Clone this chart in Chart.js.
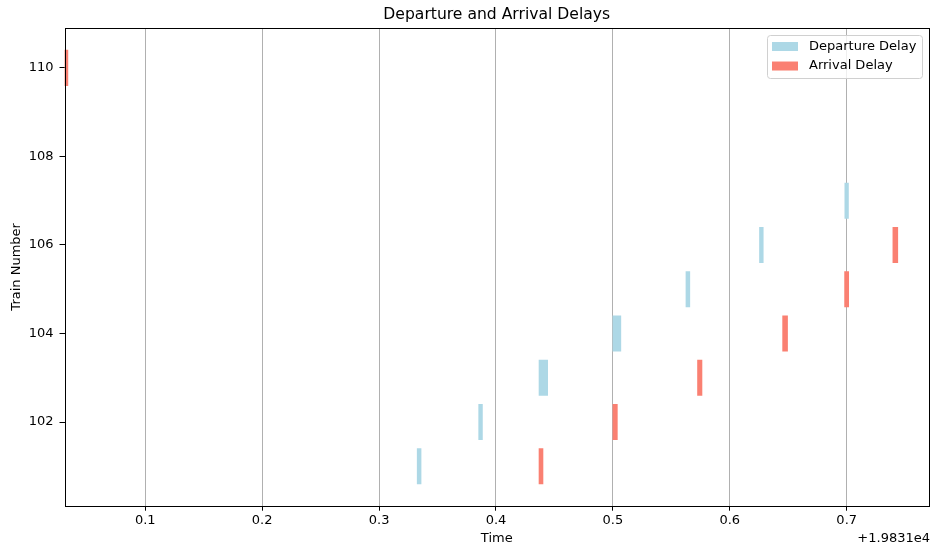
<!DOCTYPE html>
<html>
<head>
<meta charset="utf-8">
<script src="https://cdn.jsdelivr.net/npm/chart.js@4"></script>
<style>
  html, body { margin: 0; padding: 0; background: #fff; }
  #c { display: block; }
</style>
</head>
<body>
<canvas id="c" width="931" height="548"></canvas>
<script>
// Time values are days, shown as offset from 1.9831e4
const timeOffsetLabel = "+1.9831e4";

const departureTrains = [101, 102, 103, 104, 105, 106, 107];
const departureStart  = [0.3326, 0.3852, 0.4368, 0.5000, 0.5625, 0.6254, 0.6984];
const departureEnd    = [0.3359, 0.3884, 0.4442, 0.5068, 0.5658, 0.6286, 0.7015];

const arrivalTrains = [101, 102, 103, 104, 105, 106, 110];
const arrivalStart  = [0.4368, 0.5000, 0.5724, 0.6452, 0.6982, 0.7395, 0.0309];
const arrivalEnd    = [0.4402, 0.5038, 0.5762, 0.6494, 0.7017, 0.7437, 0.0338];

const xTicks = [0.1, 0.2, 0.3, 0.4, 0.5, 0.6, 0.7];
const yTicks = [102, 104, 106, 108, 110];

const seriesNames = ["Departure Delay", "Arrival Delay"];
const seriesColors = ["#add8e6", "#fa8072"];

const FONT = "'DejaVu Sans', sans-serif";
Chart.defaults.font.family = FONT;
Chart.defaults.color = "#000";

const frameAndLegend = {
  id: "frameAndLegend",
  afterDraw(chart) {
    const ctx = chart.ctx;
    const a = chart.chartArea;
    ctx.save();
    // axes frame
    ctx.strokeStyle = "#000";
    ctx.lineWidth = 1;
    ctx.strokeRect(Math.round(a.left) + 0.5, Math.round(a.top) + 0.5,
                   Math.round(a.right - a.left) - 1, Math.round(a.bottom - a.top));
    // legend
    const bx = a.right - 162, by = a.top + 7, bw = 155, bh = 43;
    ctx.fillStyle = "rgba(255,255,255,0.8)";
    ctx.strokeStyle = "#d0d0d0";
    ctx.beginPath();
    ctx.roundRect(bx + 0.5, by + 0.5, bw, bh, 3);
    ctx.fill();
    ctx.stroke();
    ctx.font = "13px " + FONT;
    ctx.textBaseline = "middle";
    ctx.textAlign = "left";
    for (let i = 0; i < seriesNames.length; i++) {
      const cy = by + 11.5 + i * 19.5;
      ctx.fillStyle = seriesColors[i];
      ctx.fillRect(bx + 5, cy - 4.5, 26, 9);
      ctx.fillStyle = "#000";
      ctx.fillText(seriesNames[i], bx + 42, cy);
    }
    // offset text
    ctx.textAlign = "right";
    ctx.fillText(timeOffsetLabel, 930, 539);
    ctx.restore();
  }
};

new Chart(document.getElementById("c"), {
  type: "bar",
  data: {
    datasets: [
      {
        label: seriesNames[0],
        data: departureTrains.map((t, i) => ({ y: t, x: [departureStart[i], departureEnd[i]] })),
        backgroundColor: seriesColors[0],
        borderWidth: 0,
        grouped: false,
        barThickness: 35.4
      },
      {
        label: seriesNames[1],
        data: arrivalTrains.map((t, i) => ({ y: t, x: [arrivalStart[i], arrivalEnd[i]] })),
        backgroundColor: seriesColors[1],
        borderWidth: 0,
        grouped: false,
        barThickness: 35.4
      }
    ]
  },
  options: {
    indexAxis: "y",
    responsive: false,
    animation: false,
    devicePixelRatio: 1,
    layout: { padding: { left: 0, right: 2, top: 0, bottom: 0 } },
    plugins: {
      legend: { display: false },
      tooltip: { enabled: false },
      title: {
        display: true,
        text: "Departure and Arrival Delays",
        fullSize: false,
        font: { size: 15.6, weight: "normal", family: FONT },
        color: "#000",
        padding: { top: 6, bottom: 3.3 }
      }
    },
    scales: {
      x: {
        type: "linear",
        position: "bottom",
        min: 0.0309,
        max: 0.7704,
        offset: false,
        z: 1,
        afterBuildTicks(scale) { scale.ticks = xTicks.map(v => ({ value: v })); },
        afterFit(scale) { scale.height = 42.3; },
        ticks: {
          font: { size: 13, family: FONT },
          color: "#000",
          padding: 2,
          maxRotation: 0,
          autoSkip: false,
          callback: v => v.toFixed(1)
        },
        grid: {
          offset: false,
          color: "#b0b0b0",
          lineWidth: 1,
          tickColor: "#000",
          tickLength: 5,
          drawTicks: true
        },
        border: { display: false },
        title: {
          display: true,
          text: "Time",
          font: { size: 13, family: FONT },
          color: "#000",
          padding: { top: 0, bottom: 1.5 }
        }
      },
      y: {
        type: "linear",
        position: "left",
        min: 100.11,
        max: 110.9,
        offset: false,
        afterBuildTicks(scale) { scale.ticks = yTicks.map(v => ({ value: v })); },
        afterFit(scale) { scale.width = 64.5; },
        ticks: {
          font: { size: 13, family: FONT },
          color: "#000",
          padding: 6,
          autoSkip: false,
          callback: v => String(v)
        },
        grid: {
          offset: false,
          color: "rgba(0,0,0,0)",
          tickColor: "#000",
          tickLength: 5,
          drawTicks: true
        },
        border: { display: false },
        title: {
          display: true,
          text: "Train Number",
          font: { size: 13, family: FONT },
          color: "#000",
          padding: { top: 9, bottom: 0 }
        }
      }
    }
  },
  plugins: [frameAndLegend]
});
</script>
</body>
</html>
